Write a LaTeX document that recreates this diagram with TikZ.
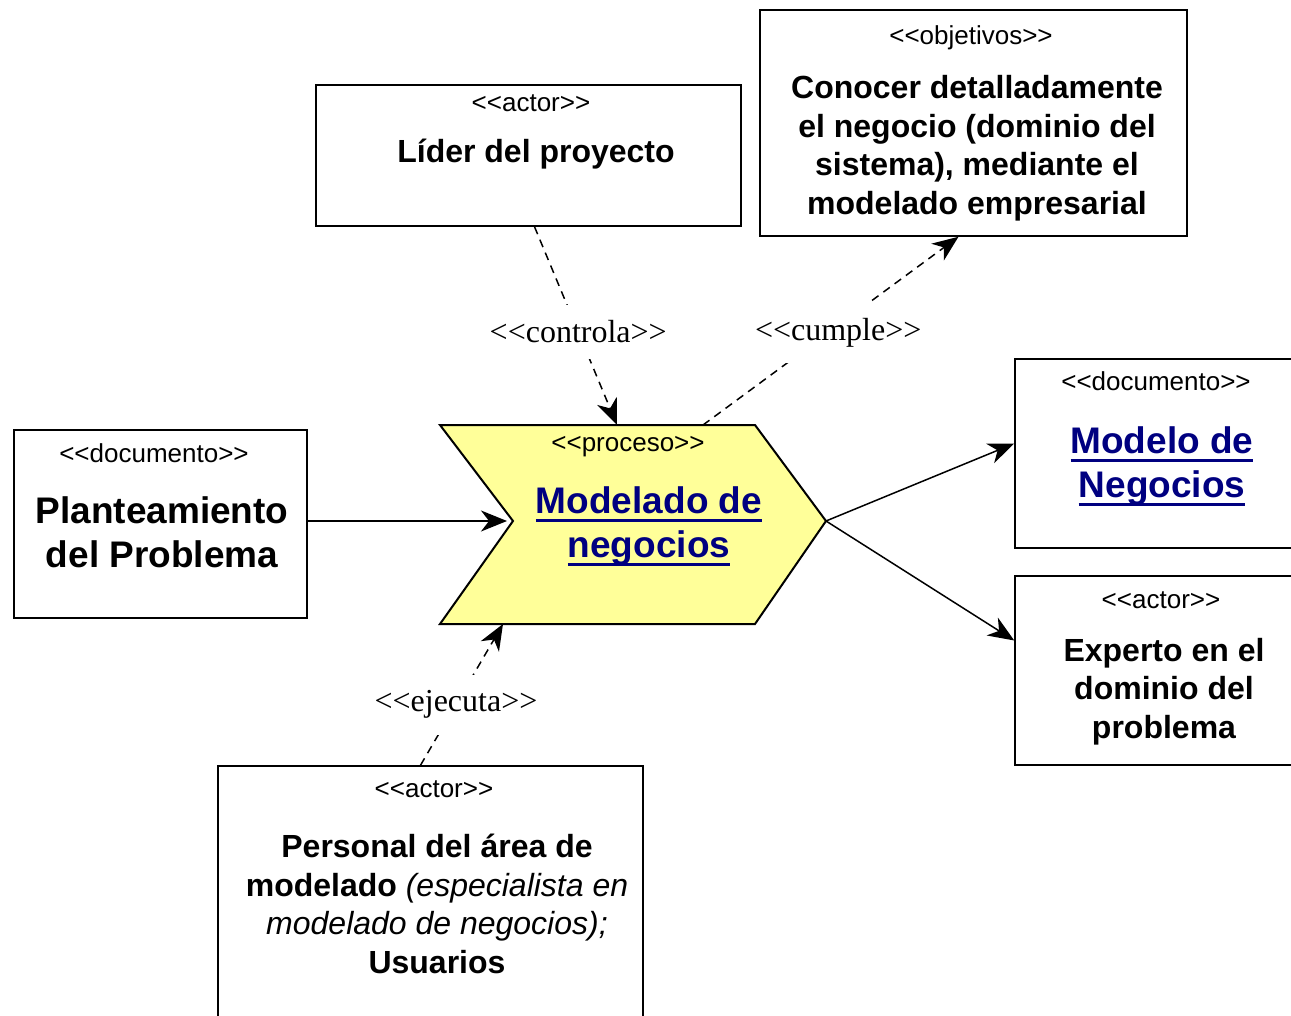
\documentclass[tikz,border=0pt]{standalone}
\usepackage{fontspec}
\setmainfont{Liberation Serif}
\setsansfont{Liberation Sans}
\usepackage{tikz}
\usetikzlibrary{arrows.meta}
\definecolor{amarillo}{HTML}{FFFF99}
\definecolor{azul}{HTML}{000080}
\newcommand{\ester}[1]{<\kern0pt<#1>\kern0pt>}
\newcommand{\subr}[1]{\setbox0\hbox{#1}\rlap{\rule[-8.5pt]{\wd0}{2.5pt}}\box0}
\tikzset{
	caja/.style={draw,line width=1.5pt,inner sep=0pt},
	estereo/.style={anchor=base,font=\sffamily\fontsize{26}{31}\selectfont},
	titulo/.style={anchor=base,align=center,font=\sffamily\bfseries\fontsize{32}{38.5}\selectfont},
	grande/.style={anchor=base,align=center,font=\sffamily\bfseries\fontsize{37}{44}\selectfont},
	enlace/.style={text=azul},
	etiqueta/.style={fill=white,inner xsep=4pt,inner ysep=16pt,font=\fontsize{32}{38}\selectfont},
	dep/.style={dash pattern=on 8pt off 6pt}
}

\begin{document}
\begin{tikzpicture}[x=1pt,y=-1pt,line width=1.5pt,
	    >={Stealth[length=26pt,width=21pt,inset=8pt]}]
	    \clip (0,0) rectangle (1291,1016);
	    % cajas
	    \node [caja,minimum width=425pt,minimum height=141pt] (lider) at (528.5,155.5) {};
	    \node [caja,minimum width=427pt,minimum height=226pt] (objetivos) at (973.5,123) {};
	    \node [caja,minimum width=293pt,minimum height=188pt] (plant) at (160.5,524) {};
	    \node [caja,minimum width=295pt,minimum height=189pt] (modelo) at (1162.5,453.5) {};
	    \node [caja,minimum width=295pt,minimum height=189pt] (experto) at (1162.5,670.5) {};
	    \node [caja,minimum width=425pt,minimum height=264pt] (personal) at (430.5,898) {};
	    % proceso
	    \draw [line width=2pt,fill=amarillo] (440,425) -- (755,425) -- (826,521) -- (755,624)
	      -- (440,624) -- (513,521) -- cycle;
	    \coordinate (proc-w) at (513,521);
	    \coordinate (proc-e) at (826,521);
	    \coordinate (proc-n1) at (617,425);
	    \coordinate (proc-n2) at (703,425);
	    \coordinate (proc-s) at (503,624);
	    % textos (base = ultima linea)
	    \node [estereo] (lider-st) at (531,112) {\ester{actor}};
	    \node [titulo] (lider-tx) at (536,163) {Líder del proyecto};
	    \node [estereo] (objetivos-st) at (971,45) {\ester{objetivos}};
	    \node [titulo] (objetivos-tx) at (977,214.5) {Conocer detalladamente\\el negocio (dominio del\\sistema), mediante el\\modelado empresarial};
	    \node [estereo] (plant-st) at (154,462) {\ester{documento}};
	    \node [grande] (plant-tx) at (162,567) {Planteamiento\\del Problema};
	    \node [estereo] (proc-st) at (628,451) {\ester{proceso}};
	    \node [grande,enlace] (proc-tx) at (649,557) {\subr{Modelado de}\\\subr{negocios}};
	    \node [estereo] (modelo-st) at (1156,390) {\ester{documento}};
	    \node [grande,enlace] (modelo-tx) at (1162,497) {\subr{Modelo de}\\\subr{Negocios}};
	    \node [estereo] (experto-st) at (1161,608) {\ester{actor}};
	    \node [titulo] (experto-tx) at (1164,738) {Experto en el\\dominio del\\problema};
	    \node [estereo] (personal-st) at (434,797) {\ester{actor}};
	    \node [titulo] (personal-tx) at (437,973) {Personal del área de\\modelado {\mdseries\itshape (especialista en}\\{\mdseries\itshape modelado de negocios);}\\Usuarios};
	    % conectores
	    \draw [->] (plant.east |- proc-w) -- ([xshift=-6pt]proc-w);
	    \draw [->] (proc-e) -- ([yshift=10pt]modelo.west);
	    \draw [->] (proc-e) -- ([yshift=30pt]experto.west);
	    \draw [dep,->] ([xshift=6pt]lider.south) -- node [etiqueta,pos=0.53] (controla) {\ester{controla}} (proc-n1);
	    \draw [dep,->] (proc-n2) -- node [etiqueta,pos=0.49,xshift=10pt] (cumple) {\ester{cumple}} ([xshift=-15pt]objetivos.south);
	    \draw [dep,->] ([xshift=-10pt]personal.north) -- node [etiqueta,pos=0.43] (ejecuta) {\ester{ejecuta}} (proc-s);
	  \end{tikzpicture}
\end{document}
